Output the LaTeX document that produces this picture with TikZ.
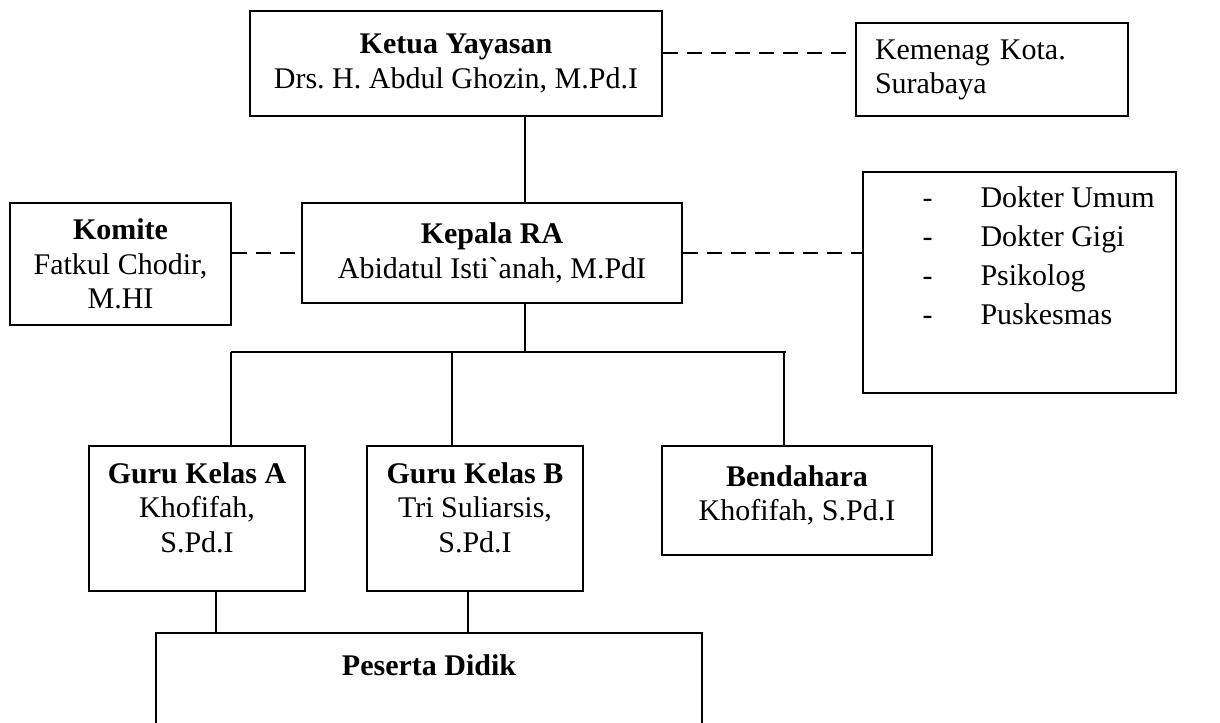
\documentclass[tikz,border=0pt]{standalone}
\usepackage{fontspec}
\setmainfont{Liberation Serif}
\frenchspacing
\begin{document}
\begin{tikzpicture}[x=0.4pt,y=-0.4pt,
  box/.style={draw, line width=0.8pt, align=center, inner sep=0pt, font=\fontsize{12}{13.8}\selectfont\frenchspacing},
  dashline/.style={dash pattern=on 6pt off 3.6pt, line width=0.8pt},
  link/.style={line width=0.8pt}]
\useasboundingbox (0,0) rectangle (1220,722);
\clip (0,0) rectangle (1220,722);

\node[box, minimum width=164.8pt, minimum height=42pt] (ketua) at (456,63.5) {\textbf{Ketua Yayasan}\\Drs. H. Abdul Ghozin, M.Pd.I};
\node[box, minimum width=108.8pt, minimum height=37.2pt, text width=93.6pt, align=left, inner xsep=7.6pt, inner ysep=0pt] (kemenag) at (992,69.5) {\begin{tabular}{@{}l@{}}Kemenag Kota.\\Surabaya\end{tabular}};
\node[box, minimum width=88.4pt, minimum height=48.8pt] (komite) at (120.5,264) {\textbf{Komite}\\Fatkul Chodir,\\M.HI};
\node[box, minimum width=152pt, minimum height=40pt] (kepala) at (492,253) {\textbf{Kepala RA}\\Abidatul Isti\textasciigrave anah, M.PdI};
\node[box, minimum width=125.2pt, minimum height=88.4pt] (dokter) at (1019.5,282.5) {};
\node[anchor=north west, inner sep=0pt, align=left, font=\fontsize{12}{15.6}\selectfont] (dokterlist) at (920,186)
  {\makebox[5.6pt]{-}\hspace{18.4pt}Dokter Umum\\
   \makebox[5.6pt]{-}\hspace{18.4pt}Dokter Gigi\\
   \makebox[5.6pt]{-}\hspace{18.4pt}Psikolog\\
   \makebox[5.6pt]{-}\hspace{18.4pt}Puskesmas};
\node[box, minimum width=86.4pt, minimum height=58pt] (guruA) at (197,518.5) {\textbf{Guru Kelas A}\\Khofifah,\\S.Pd.I\\[-5pt]\mbox{}};
\node[box, minimum width=86.4pt, minimum height=58pt] (guruB) at (475,518.5) {\textbf{Guru Kelas B}\\Tri Suliarsis,\\S.Pd.I\\[-5pt]\mbox{}};
\node[box, minimum width=108pt, minimum height=43.6pt] (bendahara) at (797,500.5) {\textbf{Bendahara}\\Khofifah, S.Pd.I\\[-8pt]\mbox{}};
\node[box, anchor=north, minimum width=218.4pt, text height=16.8pt, text depth=40pt] (peserta) at (429,632) {\textbf{Peserta Didik}};

\coordinate (trunk) at (525,352);
\coordinate (busL) at (231,352);
\coordinate (busR) at (786,352);
\coordinate (xB) at (452,352);
\coordinate (xBen) at (784,352);
\coordinate (pA) at (216,610);
\coordinate (pB) at (468,610);

\draw[link] (ketua.south -| trunk) -- (kepala.north -| trunk);
\draw[link] (kepala.south -| trunk) -- (trunk);
\draw[link] (busL) -- (busR);
\draw[link] (busL) -- (guruA.north -| busL);
\draw[link] (xB) -- (guruB.north -| xB);
\draw[link] (xBen) -- (bendahara.north -| xBen);
\draw[link] (guruA.south -| pA) -- (peserta.north -| pA);
\draw[link] (guruB.south -| pB) -- (peserta.north -| pB);

\draw[dashline] ([yshift=4.2pt]ketua.east) -- ([yshift=4.2pt]ketua.east -| kemenag.west);
\draw[dashline] (komite.east |- kepala.west) -- (kepala.west);
\draw[dashline] (kepala.east) -- (kepala.east -| dokter.west);
\end{tikzpicture}
\end{document}
